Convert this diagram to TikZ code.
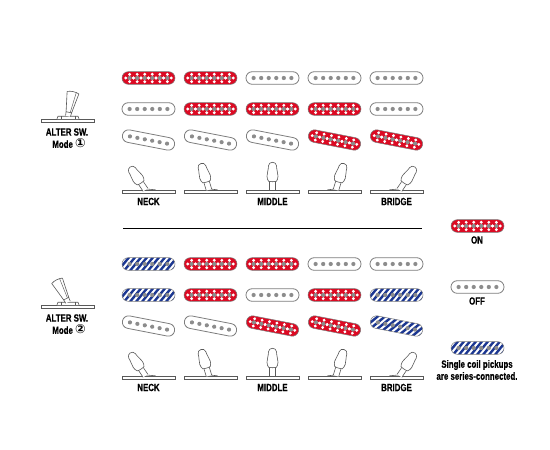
\documentclass[tikz,border=0pt]{standalone}
\usepackage{fontspec}
\setmainfont{Liberation Sans}
\newfontfamily\labfont[FakeStretch=0.75,BoldFont=* Bold,BoldFeatures={FakeBold=0.5}]{Liberation Sans}
\newfontfamily\symfont{DejaVu Sans}
\definecolor{pkred}{RGB}{220,10,35}
\definecolor{pkblue}{RGB}{28,55,145}
\definecolor{pkgray}{RGB}{140,140,140}
\definecolor{pkline}{RGB}{125,125,125}
\tikzset{
  x=1pt,y=-1pt,
  lab/.style={font=\labfont\bfseries\fontsize{10.5}{12}\selectfont,align=center,inner sep=0pt,text=black},
  outl/.style={draw=pkline,line width=.8pt},
  lever/.style={draw=black!65,line width=.6pt,fill=white},
}
\newcommand{\pkshape}{[rounded corners=6.2pt] (-26.5,-6.3) rectangle (26.5,6.3)}
\newcommand{\poles}{\foreach \i in {-2.5,-1.5,-.5,.5,1.5,2.5}{\fill[pkgray] (\i*7.55,0) circle (2.1);}}
\newcommand{\pkoff}[3]{\begin{scope}[shift={(#1,#2)},rotate=-#3]
  \draw[outl,fill=white] \pkshape; \poles
\end{scope}}
\newcommand{\pkon}[3]{\begin{scope}[shift={(#1,#2)},rotate=-#3]
  \fill[pkred] \pkshape;
  \begin{scope}\clip \pkshape;
  \foreach \i in {-2.5,-1.5,-.5,.5,1.5,2.5}{
     \fill[white] (\i*7.55-3.78,0) circle (1.6);\fill[white] (\i*7.55+3.78,0) circle (1.6);
     \foreach \s in {-1,1}{\fill[white] (\i*7.55,\s*3.7) circle (1.6);}}
  \end{scope}
  \poles
  \draw[outl,line width=.5pt] \pkshape;
\end{scope}}
\newcommand{\pkser}[3]{\begin{scope}[shift={(#1,#2)},rotate=-#3]
  \begin{scope}\clip \pkshape;
    \fill[white] (-30,-8) rectangle (30,8);
    \foreach \i in {-8,...,8}{\fill[pkblue] (\i*6-3,8) -- (\i*6+.1,8) -- (\i*6+13.1,-8) -- (\i*6+10,-8) -- cycle;}
  \end{scope}
  \poles
  \draw[outl,line width=.5pt] \pkshape;
\end{scope}}
\newcommand{\swbase}[2]{\draw[draw=black!65,line width=.6pt,fill=white] (#1-26.5,#2-1.7) rectangle (#1+26.5,#2+1.7);}
\newcommand{\sw}[5]{\swbase{#1}{#2}
  \draw[black!65,line width=.6pt] (#1+#4,#2-2.6) -- (#1+#5,#2-1.7);
  \begin{scope}[shift={(#1+#4,#2-1.7)},rotate=-#3]
    \draw[lever] (-2.8,0) -- (-2.8,-9) -- (2.8,-9) -- (2.8,0);
    \draw[lever] (-4,-8.6) .. controls (-4.8,-10) and (-5.5,-11.5) .. (-5.5,-13.5) .. controls (-5.5,-17) and (-4,-20) .. (-4,-24) .. controls (-4,-26.3) and (-2,-27.5) .. (0,-27.5) .. controls (2,-27.5) and (4,-26.3) .. (4,-24) .. controls (4,-20) and (5.5,-17) .. (5.5,-13.5) .. controls (5.5,-11.5) and (4.8,-10) .. (4,-8.6) .. controls (2,-7.9) and (-2,-7.9) .. (-4,-8.6) -- cycle;
  \end{scope}}
\newcommand{\alter}[3]{\swbase{#1}{#2}
  \draw[lever] (#1-11,#2-1.7) -- (#1-10,#2-4.5) -- (#1+10,#2-4.5) -- (#1+11,#2-1.7);
  \draw[black!65,line width=.5pt] (#1-7,#2-4.5) -- (#1-7,#2-1.7) (#1+7,#2-4.5) -- (#1+7,#2-1.7);
  \begin{scope}[shift={(#1,#2-4.5)},rotate=-#3]
    \draw[lever] (-2.5,0) -- (-3,-7) -- (3,-7) -- (2.5,0);
    \draw[lever] (-2.8,-4) -- (-6,-24) .. controls (-3,-25.5) and (3,-25.5) .. (6,-24) -- (2.8,-4) -- cycle;
    \draw[black!65,line width=.45pt] (3.2,-24.8) -- (1.4,-4);
  \end{scope}}
\begin{document}
\begin{tikzpicture}
\useasboundingbox[fill=white] (0,0) rectangle (550,450);
% upper block
\pkon{148.5}{78}{0}\pkon{210.5}{78}{0}\pkoff{272.5}{78}{0}\pkoff{334.5}{78}{0}\pkoff{396.5}{78}{0}
\pkoff{148.5}{109}{0}\pkon{210.5}{109}{0}\pkon{272.5}{109}{0}\pkon{334.5}{109}{0}\pkoff{396.5}{109}{0}
\pkoff{148.5}{140}{11}\pkoff{210.5}{140}{11}\pkoff{272.5}{140}{11}\pkon{334.5}{140}{11}\pkon{396.5}{140}{11}
\sw{148.5}{191.5}{-34}{-3}{7}
\sw{210.5}{191.5}{-17}{-1.5}{7}
\sw{272.5}{191.5}{0}{0}{0}
\sw{334.5}{191.5}{17}{1.5}{-7}
\sw{396.5}{191.5}{34}{3}{-7}
\node[lab] (n1) at (148.5,201.5) {NECK};
\node[lab] (m1) at (272.5,201.5) {MIDDLE};
\node[lab] (b1) at (396.5,201.5) {BRIDGE};
\alter{68}{120.7}{12}
\node[lab] (a1) at (67,132) {ALTER SW.};
\node[lab] (a1b) at (69,143.5) {Mode {\symfont\fontsize{12.5}{12}\selectfont ①}};
% divider
\coordinate (la) at (123,228); \coordinate (lb) at (422,228);
\draw[black,line width=.8pt] (la) -- (lb);
% lower block
\pkser{148.5}{264}{0}\pkon{210.5}{264}{0}\pkon{272.5}{264}{0}\pkoff{334.5}{264}{0}\pkoff{396.5}{264}{0}
\pkser{148.5}{295}{0}\pkon{210.5}{295}{0}\pkoff{272.5}{295}{0}\pkon{334.5}{295}{0}\pkser{396.5}{295}{0}
\pkoff{148.5}{326}{11}\pkoff{210.5}{326}{11}\pkon{272.5}{326}{11}\pkon{334.5}{326}{11}\pkser{396.5}{326}{11}
\sw{148.5}{377.5}{-34}{-3}{7}
\sw{210.5}{377.5}{-17}{-1.5}{7}
\sw{272.5}{377.5}{0}{0}{0}
\sw{334.5}{377.5}{17}{1.5}{-7}
\sw{396.5}{377.5}{34}{3}{-7}
\node[lab] (n2) at (148.5,387.5) {NECK};
\node[lab] (m2) at (272.5,387.5) {MIDDLE};
\node[lab] (b2) at (396.5,387.5) {BRIDGE};
\alter{68}{306.7}{-27}
\node[lab] (a2) at (67,318) {ALTER SW.};
\node[lab] (a2b) at (69,329.5) {Mode {\symfont\fontsize{12.5}{12}\selectfont ②}};
% legend
\pkon{477.5}{226}{0}
\node[lab] (on) at (477,240) {ON};
\pkoff{477.5}{287}{0}
\node[lab] (off) at (477,301) {OFF};
\pkser{477.5}{348}{0}
\node[lab] (ser) at (477,370) {Single coil pickups\\are series-connected.};
\end{tikzpicture}
\end{document}
